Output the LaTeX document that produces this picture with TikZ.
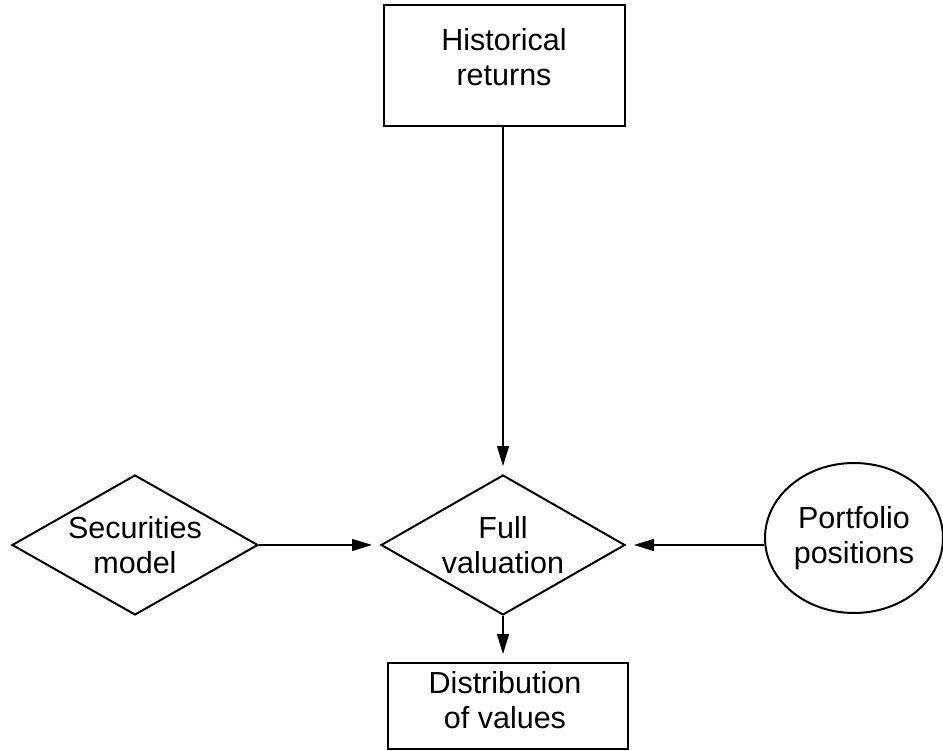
\documentclass[tikz,border=0pt]{standalone}
\usepackage{fontspec}
\setmainfont{Liberation Sans}
\usetikzlibrary{shapes.geometric,arrows.meta}
\begin{document}
\begin{tikzpicture}[x=1pt,y=-1pt,
  every node/.style={font=\fontsize{30.5}{35}\selectfont, align=center, line width=2pt},
  box/.style={draw, rectangle, inner sep=0pt},
  caption/.style={inner sep=0pt},
  decision/.style={draw, diamond, aspect=1.75, inner sep=0pt},
  oval/.style={draw, ellipse, inner sep=0pt},
  flow/.style={line width=1.4pt, -{Triangle[length=20pt,width=12pt]}, shorten >=8pt}]
\useasboundingbox (0,0) rectangle (943,751);
% boxes with their captions set a little above centre
\node[box, minimum width=241pt, minimum height=121pt] (hist) at (504.5,65.5) {};
\node[caption] (histtext) at (504,57) {Historical\\returns};
\node[box, minimum width=240pt, minimum height=86pt] (dist) at (508,706) {};
\node[caption] (disttext) at (505,700) {Distribution\\of values};
% decisions and the oval
\node[decision, minimum width=244pt, minimum height=140pt] (full) at (503,545) {Full\\valuation};
\node[decision, minimum width=246pt, minimum height=140pt] (sec) at (135,545) {Securities\\model};
\node[oval, minimum width=178pt, minimum height=150pt] (port) at (854,538) {Portfolio\\positions};
% connectors
\draw[flow] (hist.south -| full.north) -- (full.north);
\draw[flow] (sec.east) -- (full.west);
\draw[flow] (port.west |- full.east) -- (full.east);
\draw[flow] (full.south) -- (full.south |- dist.north);
\end{tikzpicture}
\end{document}
